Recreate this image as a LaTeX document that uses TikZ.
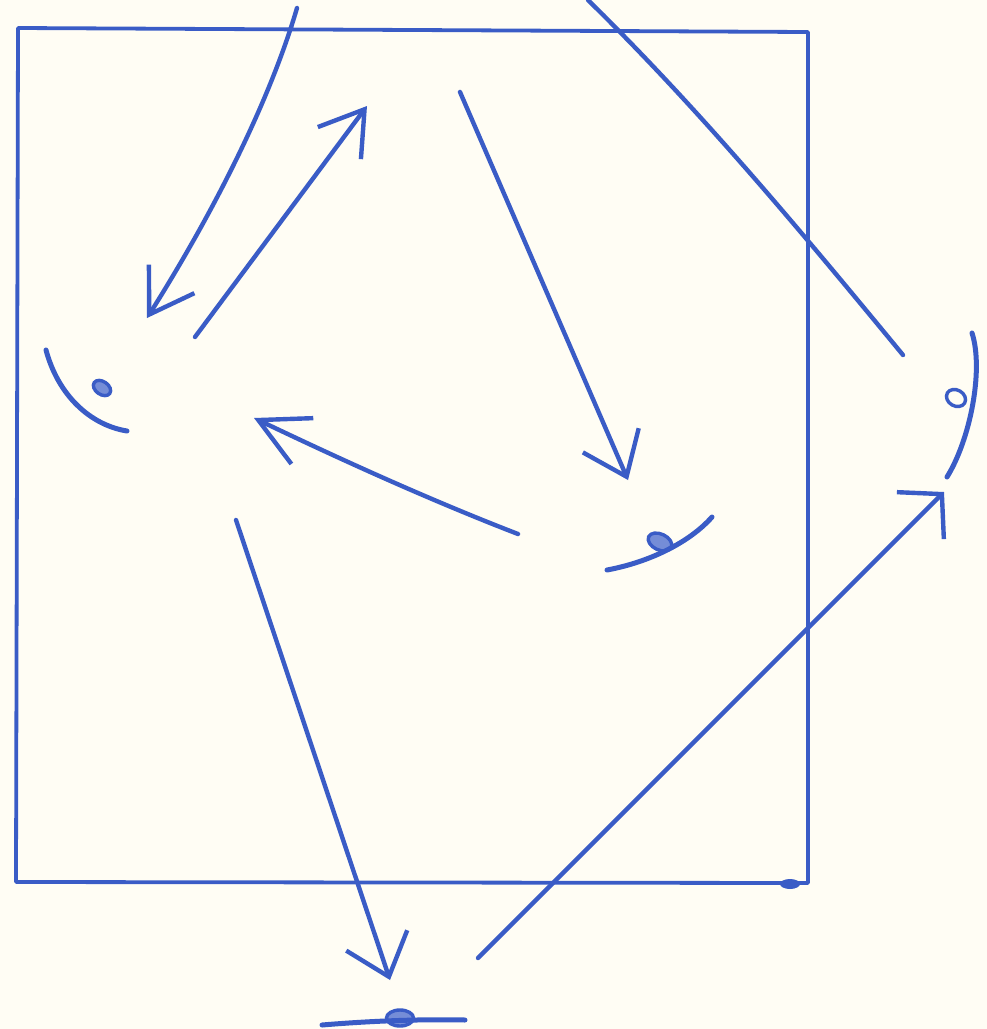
\documentclass[tikz,border=0pt]{standalone}
\usetikzlibrary{arrows.meta,shapes.geometric}
\definecolor{ink}{HTML}{3A5CC6}
\definecolor{paper}{HTML}{FFFDF4}
\tikzset{
  >={Straight Barb[angle=65:50pt]},
  pen/.style={draw=ink,line width=4.4pt,line cap=round,line join=round},
  ray/.style={pen,->},
  lid/.style={pen,line width=5pt},
  pupil/.style={ellipse,draw=ink,fill=ink!70,line width=3.4pt,inner sep=0pt,
    minimum width=19pt,minimum height=13pt}
}

\begin{document}
\begin{tikzpicture}[x=1pt,y=-1pt]
  \fill[paper] (0,0) rectangle (987,1029);
  \useasboundingbox (0,0) rectangle (987,1029);
  % frame
  \draw[pen,line width=3.8pt] (18,28) -- (808,32) -- (808,883) -- (16,882) -- cycle;
  \fill[ink] (790,884) ellipse (10pt and 5pt);
  % eyes
  \node[pupil,rotate=-35] (eyeleft) at (102,388) {};
  \draw[lid] (46,350) .. controls (58,395) and (90,425) .. (127,431);
  \node[pupil,rotate=-25,minimum width=25pt,minimum height=16pt] (eyemid) at (660,542) {};
  \draw[lid] (607,570) .. controls (650,562) and (690,542) .. (712,517);
  \node[pupil,rotate=-30,fill=paper,minimum width=20pt,minimum height=16pt] (eyeright) at (956,398) {};
  \draw[lid] (972,333) .. controls (984,370) and (970,440) .. (947,477);
  \node[pupil,minimum width=27pt,minimum height=16pt] (eyebottom) at (400,1018) {};
  \draw[lid] (322,1025) .. controls (370,1021) and (420,1019) .. (465,1020);
  % ray ends
  \coordinate (r1s) at (297,8);   \coordinate (r1e) at (147,318);
  \coordinate (r2s) at (195,337); \coordinate (r2e) at (367,106);
  \coordinate (r3s) at (460,92);  \coordinate (r3e) at (628,480);
  \coordinate (r4s) at (518,534); \coordinate (r4e) at (254,418);
  \coordinate (r5s) at (236,520); \coordinate (r5e) at (390,980);
  \coordinate (r6s) at (478,958); \coordinate (r6e) at (944,492);
  \coordinate (r7s) at (588,0);   \coordinate (r7e) at (903,355);
  % rays
  \draw[ray] (r1s) .. controls (270,100) and (215,210) .. (r1e);
  \draw[ray] (r2s) -- (r2e);
  \draw[ray,>={Straight Barb[angle=75:50pt]}] (r3s) -- (r3e);
  \draw[ray,>={Straight Barb[angle=55:55pt]}] (r4s) .. controls (430,500) and (342,460) .. (r4e);
  \draw[ray,>={Straight Barb[angle=80:50pt]}] (r5s) -- (r5e);
  \draw[ray,>={Straight Barb[angle=95:45pt]}] (r6s) -- (r6e);
  \draw[pen] (r7s) .. controls (700,110) and (800,230) .. (r7e);
\end{tikzpicture}
\end{document}
